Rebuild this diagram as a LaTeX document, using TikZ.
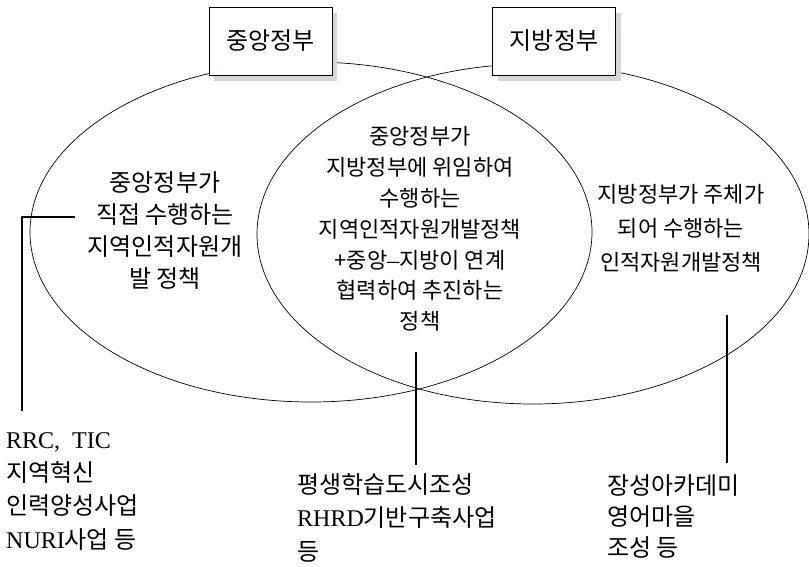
\documentclass[tikz,border=0pt]{standalone}
\usepackage{fontspec}
\setmainfont{Noto Sans CJK KR}
\newfontfamily\latin{Liberation Serif}
\usetikzlibrary{shadows}

\definecolor{shadowgrey}{RGB}{212,216,212}

\tikzset{
  govbox/.style={draw=black, line width=1pt, fill=white, minimum width=123pt,
    minimum height=68pt, inner sep=0pt,
    font=\fontsize{24}{28}\selectfont,
    drop shadow={shadow xshift=5pt, shadow yshift=-6pt, fill=shadowgrey, opacity=1}},
  setline/.style={draw=black, line width=0.7pt},
  inner/.style={align=center, inner sep=0pt},
  bigtext/.style={inner, font=\fontsize{24}{32}\selectfont},
  smalltext/.style={inner, font=\fontsize{22}{30.8}\selectfont},
  example/.style={align=left, inner sep=0pt, anchor=north west},
  leader/.style={draw=black, line width=1.2pt},
}

\begin{document}
\begin{tikzpicture}[x=1pt, y=-1pt]
  \useasboundingbox (0,0) rectangle (809,566);

  % the two overlapping sets
  \draw[setline] (311,232) ellipse [x radius=281, y radius=170];
  \draw[setline] (533,234) ellipse [x radius=276, y radius=170];

  % set titles
  \node[govbox] (central) at (270.5,41) {중앙정부};
  \node[govbox] (local)   at (554,41)   {지방정부};

  % texts inside the regions
  \node[bigtext] (onlycentral) at (165,231)
    {중앙정부가\\직접 수행하는\\지역인적자원개\\발 정책};
  \node[smalltext] (both) at (420,229)
    {중앙정부가\\지방정부에 위임하여\\수행하는\\지역인적자원개발정책\\+중앙{\latin\fontsize{24}{30.8}\selectfont –}지방이 연계\\협력하여 추진하는\\정책};
  \node[smalltext, font=\fontsize{22}{34}\selectfont] (onlylocal) at (681,228)
    {지방정부가 주체가\\되어 수행하는\\인적자원개발정책};

  % examples below the diagram
  \node[example, font=\fontsize{24}{33.3}\selectfont] (excentral) at (6,432)
    {{\latin RRC,\ \ TIC}\\지역혁신\\인력양성사업\\{\latin NURI}사업 등};
  \node[example, font=\fontsize{24}{33.5}\selectfont] (exboth) at (297,473)
    {평생학습도시조성\\{\latin RHRD}기반구축사업\\등};
  \node[example, font=\fontsize{24}{31}\selectfont] (exlocal) at (607,474)
    {장성아카데미\\영어마을\\조성 등};

  % leader lines from the regions to their examples
  \coordinate (lstart) at (75,217);
  \coordinate (lend)   at (22,411);
  \coordinate (mstart) at (416,352);
  \coordinate (mend)   at (416,465);
  \coordinate (rstart) at (727,315);
  \coordinate (rend)   at (727,463);
  \draw[leader] (lstart) -| (lend);
  \draw[leader] (mstart) -- (mend);
  \draw[leader] (rstart) -- (rend);
\end{tikzpicture}
\end{document}
